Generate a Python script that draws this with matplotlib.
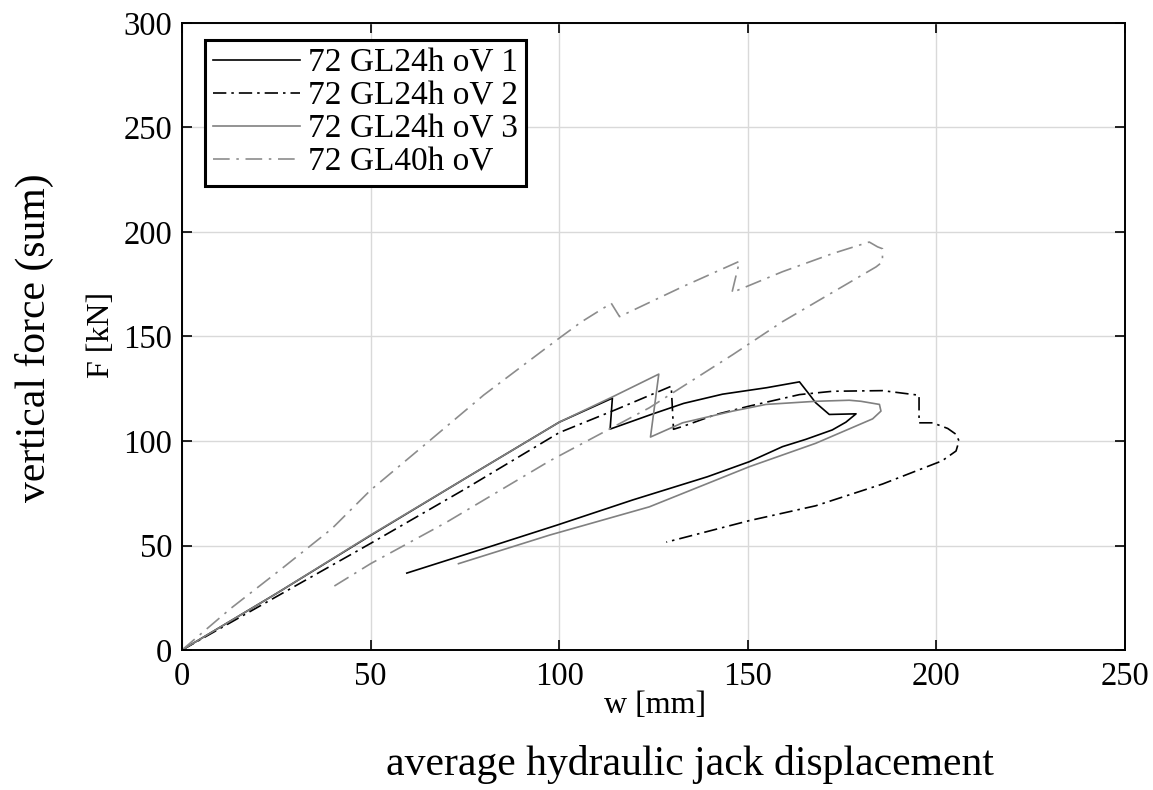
import matplotlib.pyplot as plt

plt.rcParams['font.family'] = ['Liberation Serif', 'DejaVu Serif']

# 72 GL24h oV 1
w1 = [0, 25, 50, 75, 100, 114.1, 113.5, 124.4, 133, 143.3, 155, 163.7, 166, 168, 171.6, 178.7,
      176, 172.4, 165.4, 159.2, 150.4, 139.3, 119.5, 99.5, 80, 59.6]
F1 = [0, 27, 54.8, 82, 109, 120.5, 105.7, 112.7, 118, 122.4, 125.5, 128.3, 123, 118.3, 112.7, 113,
      109, 105.3, 100.8, 97.3, 90.1, 82.9, 71.8, 59.8, 48.5, 36.8]

# 72 GL24h oV 2
w2 = [0, 25, 50, 75, 100, 115, 129.7, 130.3, 132.8, 141.6, 150.4, 163.7, 172.5, 185.7, 195.4, 195.4,
      199, 203, 205.2, 206, 205.2, 201.5, 185.7, 168, 150.4, 128.4]
F2 = [0, 25.5, 51, 77, 104, 115, 126.2, 105.6, 107, 112.7, 116.7, 122.2, 123.8, 124.1, 121.9, 108.7,
      108.7, 106, 103.2, 100, 95.2, 90.5, 79.4, 69, 61.9, 51.6]

# 72 GL24h oV 3
w3 = [0, 25, 50, 75, 100, 114, 126.4, 124.2, 132.7, 146, 154.8, 168, 176.9, 180, 184.9, 185.3,
      183.1, 168, 150.4, 123.9, 97.5, 73.3]
F3 = [0, 27, 55, 82, 109, 121, 132, 101.9, 108.7, 114.3, 117.5, 119, 119.5, 119, 117.5, 114.3,
      110.6, 98.9, 87.7, 68.5, 55, 41.3]

# 72 GL40h oV
w4 = [0, 13, 26.5, 39.7, 50, 66.2, 80, 100, 105.9, 113.8, 116, 132.7, 147.8, 145.8, 159.2, 172.5,
      182.2, 184.4, 185.7, 185.7, 184, 159.2, 146, 123.9, 97.5, 70, 50, 39.3]
F4 = [0, 20, 39, 58, 76.5, 101, 122, 149.2, 157, 165.9, 159.5, 173.8, 186, 171, 181, 189.7,
      195.2, 192.9, 192, 185.7, 183.3, 157.1, 141.3, 115.9, 90.5, 61, 41.3, 29.4]

labels = ['72 GL24h oV 1', '72 GL24h oV 2', '72 GL24h oV 3', '72 GL40h oV']

fig = plt.figure(figsize=(11.53, 7.9), dpi=100)
ax = fig.add_axes([182 / 1153, 1 - 650 / 790, 943 / 1153, 627 / 790])

ax.plot(w1, F1, color='black', lw=1.2, label=labels[0])
ax.plot(w2, F2, color='black', lw=1.2, dashes=(8, 3, 1.5, 3), label=labels[1])
ax.plot(w3, F3, color='#808080', lw=1.2, label=labels[2])
ax.plot(w4, F4, color='#8c8c8c', lw=1.2, dashes=(10, 4, 1.5, 4), label=labels[3])

ax.set_xlim(0, 250)
ax.set_ylim(0, 300)
ax.set_xticks(range(0, 251, 50))
ax.set_yticks(range(0, 301, 50))
ax.grid(True, color='#d9d9d9', lw=1.0)
ax.set_axisbelow(True)
ax.tick_params(direction='in', length=7, width=1.2, labelsize=23.5, top=True, right=True)
ax.tick_params(axis='x', pad=8)
ax.tick_params(axis='y', pad=7)
for sp in ax.spines.values():
    sp.set_linewidth(1.4)

ax.set_xlabel('w [mm]', fontsize=23, va='center')
ax.xaxis.set_label_coords(0.5016, -0.089)
ax.set_ylabel('F [kN]', fontsize=23, va='center')
ax.yaxis.set_label_coords(-0.085, 0.502)

fig.text(0.030, 0.572, 'vertical force (sum)', fontsize=30, rotation=90, ha='center', va='center')
fig.text(0.598, 0.032, 'average hydraulic jack displacement', fontsize=30, ha='center', va='center')

leg = ax.legend(loc='upper left', bbox_to_anchor=(0.024, 0.973), borderaxespad=0, fontsize=24,
                handlelength=2.6, handletextpad=0.25, labelspacing=0.07, borderpad=0.25,
                fancybox=False, framealpha=1)
leg.get_frame().set_edgecolor('black')
leg.get_frame().set_linewidth(2.2)

fig.savefig('out.png', dpi=100)
